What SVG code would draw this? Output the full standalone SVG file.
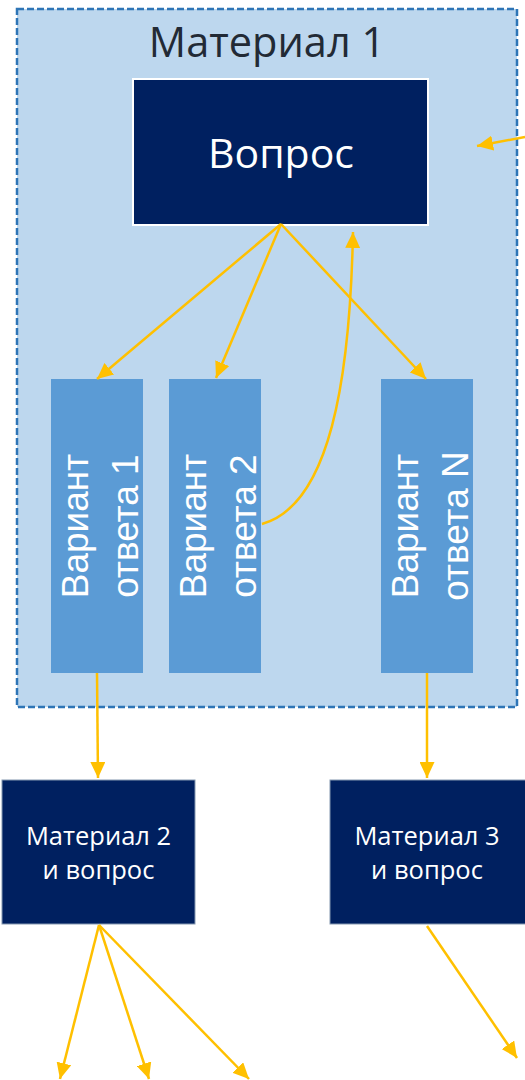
<svg xmlns="http://www.w3.org/2000/svg" width="525" height="1080" viewBox="0 0 525 1080">
<style>
.cont{fill:#bdd7ee;stroke:#2e75b6;stroke-width:2.5;stroke-dasharray:7 3}
.dark{fill:#002060}
.var{fill:#5b9bd5}
.conn path{fill:none;stroke:#ffc000;stroke-width:2.5;marker-end:url(#ah)}
.t{font-family:"Open Sans","Noto Sans",sans-serif;text-anchor:middle}
.vt{font-family:"Liberation Sans",Arial,sans-serif;font-size:37px;fill:#fff;text-anchor:middle}
</style>
<defs>
<marker id="ah" markerUnits="userSpaceOnUse" markerWidth="17" markerHeight="15" refX="16" refY="7.5" orient="auto">
<path d="M0,0 L16,7.5 L0,15 z" fill="#ffc000"/>
</marker>
</defs>
<rect width="525" height="1080" fill="#fff"/>
<g id="material1">
<rect class="cont" x="17" y="9" width="500" height="698"/>
<text class="t" x="267" y="57" font-size="41.5" fill="#222a35">Материал 1</text>
</g>
<g id="vopros">
<rect class="dark" x="133" y="79" width="295" height="146" stroke="#fff" stroke-width="2"/>
<text class="t" x="281" y="168" font-size="41" fill="#fff">Вопрос</text>
</g>
<g id="var1">
<rect class="var" x="51" y="379" width="92" height="294"/>
<text class="vt" transform="translate(87.5,526) rotate(-90)">Вариант</text>
<text class="vt" transform="translate(137.5,526) rotate(-90)">ответа 1</text>
</g>
<g id="var2">
<rect class="var" x="169" y="379" width="92" height="294"/>
<text class="vt" transform="translate(205.5,526) rotate(-90)">Вариант</text>
<text class="vt" transform="translate(255.5,526) rotate(-90)">ответа 2</text>
</g>
<g id="varN">
<rect class="var" x="381" y="379" width="92" height="294"/>
<text class="vt" transform="translate(417.5,526) rotate(-90)">Вариант</text>
<text class="vt" transform="translate(467.5,526) rotate(-90)">ответа N</text>
</g>
<g id="material2">
<rect class="dark" x="2" y="780" width="193" height="144" stroke="#8497b0" stroke-width="1"/>
<text class="t" x="98.5" y="845" font-size="25.5" fill="#fff">Материал 2</text>
<text class="t" x="98.5" y="879" font-size="25.5" fill="#fff">и вопрос</text>
</g>
<g id="material3">
<rect class="dark" x="330" y="780" width="200" height="144" stroke="#8497b0" stroke-width="1"/>
<text class="t" x="427" y="845" font-size="25.5" fill="#fff">Материал 3</text>
<text class="t" x="427" y="879" font-size="25.5" fill="#fff">и вопрос</text>
</g>
<g class="conn" id="connectors">
<path d="M281,224 L97,379"/>
<path d="M281,224 L216,378"/>
<path d="M281,224 L426,379"/>
<path d="M262,524 C330,505 350,380 353,232"/>
<path d="M525,137 L477,146"/>
<path d="M97,673 L98,778"/>
<path d="M427,673 L427,778"/>
<path d="M99,925 L60,1079"/>
<path d="M99,925 L149,1079"/>
<path d="M99,925 L249,1079"/>
<path d="M427,926 L517,1058"/>
</g>
</svg>
